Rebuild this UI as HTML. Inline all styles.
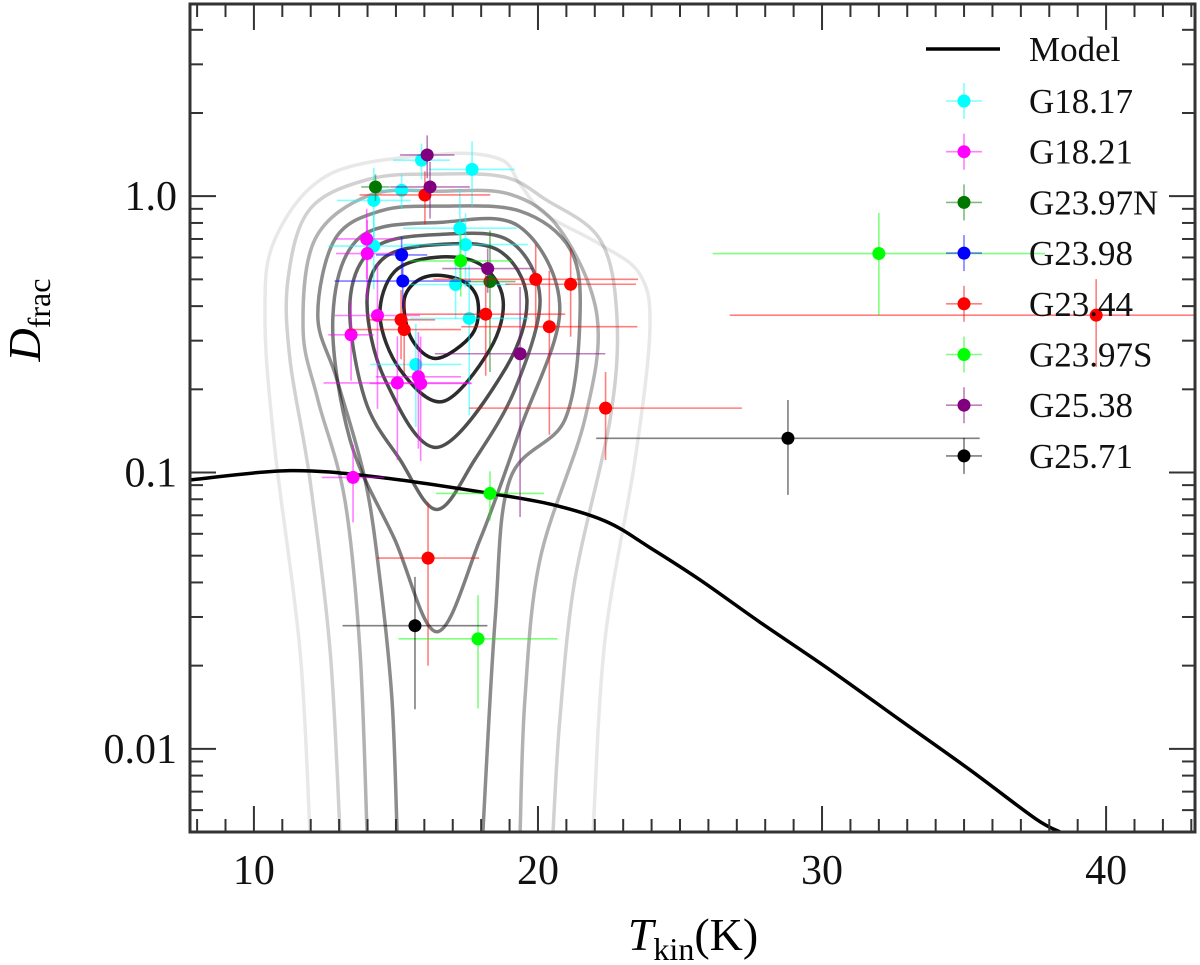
<!DOCTYPE html>
<html><head><meta charset="utf-8"><style>
html,body{margin:0;padding:0;background:#fff;}
svg{display:block;font-family:"Liberation Serif",serif;}
</style></head><body>
<svg id="chart" width="1200" height="965" viewBox="0 0 1200 965">
<defs><clipPath id="plotclip"><rect x="190" y="4" width="1005" height="828"/></clipPath></defs>
<g id="contours" clip-path="url(#plotclip)"></g>
<g id="model" clip-path="url(#plotclip)"></g>
<g id="points" clip-path="url(#plotclip)"></g>
<g id="axes"></g>
<g id="legend"></g>
<text x="40" y="320" font-size="46" text-anchor="middle" transform="rotate(-90 40 320)"><tspan font-style="italic">D</tspan><tspan font-size="32" dy="10">frac</tspan></text>
<text x="693" y="950" font-size="46" text-anchor="middle"><tspan font-style="italic">T</tspan><tspan font-size="32" dy="10">kin</tspan><tspan dy="-10">(K)</tspan></text>
</svg>
<script>
// ---------- data ----------
const seriesNames = ["G18.17","G18.21","G23.97N","G23.98","G23.44","G23.97S","G25.38","G25.71"];
const seriesColors = ["#00ffff","#ff00ff","#007800","#0000ff","#ff0000","#00ff00","#800080","#000000"];
const tG1817 = [15.9,17.68,15.2,14.22,17.25,17.45,14.22,17.1,17.58,15.7];
const dG1817 = [1.35,1.25,1.05,0.965,0.766,0.668,0.66,0.479,0.361,0.246];
const teG1817 = [1.0,1.5,0.8,1.3,2.0,2.2,1.6,1.9,2.1,1.6];
const deG1817 = [0.2,0.33,0.15,0.3,0.3,0.2,0.2,0.12,0.2,0.1];
const tG1821 = [13.97,13.99,14.35,13.42,15.05,15.79,15.87,13.49];
const dG1821 = [0.70,0.62,0.37,0.315,0.211,0.222,0.21,0.096];
const teG1821 = [1.1,1.1,1.5,0.8,2.6,1.5,1.8,1.1];
const deG1821 = [0.2,0.2,0.2,0.1,0.1,0.1,0.1,0.03];
const tG2397N = [14.28,18.31];
const dG2397N = [1.08,0.491];
const teG2397N = [0.5,0.9];
const deG2397N = [0.12,0.26];
const tG2398 = [15.2,15.24];
const dG2398 = [0.613,0.493];
const teG2398 = [0.9,2.4];
const deG2398 = [0.1,0.1];
const tG2344 = [16.02,19.92,21.15,15.18,18.16,15.29,20.4,22.38,16.13,39.65];
const dG2344 = [1.01,0.50,0.48,0.357,0.374,0.329,0.337,0.171,0.049,0.371];
const teG2344 = [2.3,3.6,2.3,1.2,2.8,2.0,3.1,4.8,1.8,12.9];
const deG2344 = [0.22,0.17,0.17,0.1,0.15,0.1,0.2,0.06,0.029,0.13];
const tG2397S = [17.28,18.31,17.89,32.0];
const dG2397S = [0.583,0.084,0.025,0.62];
const teG2397S = [1.8,1.9,2.8,5.85];
const deG2397S = [0.15,0.017,0.011,0.25];
const tG2538 = [16.1,16.2,18.23,19.37];
const dG2538 = [1.41,1.08,0.547,0.269];
const teG2538 = [0.96,1.4,1.6,3.0];
const deG2538 = [0.25,0.25,0.1,0.2];
const tG2571 = [15.67,28.8];
const dG2571 = [0.0279,0.133];
const teG2571 = [2.55,6.75];
const deG2571 = [0.014,0.05];

const modelT = [7.75,11.27,14.44,18.31,20.5,22.4,23.94,25.7,27.8,30.28,32.75,35.2,37.5,38.38];
const modelD = [0.094,0.1016,0.096,0.084,0.0765,0.0665,0.0535,0.0409,0.0288,0.0193,0.0127,0.0084,0.0056,0.005];

const xTicks = [10,20,30,40];
const xTickLabels = ["10","20","30","40"];
const yTicks = [1.0,0.1,0.01];
const yTickLabels = ["1.0","0.1","0.01"];

// contours: T values and log10(D) values
const c1T=[16.44,17.43,17.89,17.68,16.44,15.56,15.28,15.67];
const c1L=[-0.286,-0.312,-0.384,-0.5,-0.587,-0.518,-0.384,-0.312];
const c2T=[16.44,17.96,18.77,18.31,16.65,15.14,14.44,14.96];
const c2L=[-0.221,-0.246,-0.373,-0.554,-0.743,-0.627,-0.435,-0.272];
const c3T=[16.65,18.66,19.61,18.84,16.44,14.61,13.98,14.61];
const c3L=[-0.174,-0.199,-0.373,-0.627,-0.909,-0.663,-0.384,-0.221];
const c4T=[16.65,19.01,20.07,19.19,17.78,16.44,15.14,13.91,13.38,14.26];
const c4L=[-0.138,-0.163,-0.373,-0.699,-0.953,-1.134,-0.953,-0.736,-0.384,-0.185];
const c5T=[16.65,19.37,20.77,19.37,17.96,16.44,14.96,13.38,12.78,13.73];
const c5L=[-0.094,-0.112,-0.409,-0.844,-1.243,-1.576,-1.243,-0.88,-0.435,-0.149];
const c6T=[15.04,14.86,14.44,13.91,12.92,12.25,12.85,14.44,16.55,19.37,21.13,21.48,20.95,19.01,18.49,18.06];
const c6L=[-2.301,-1.822,-1.388,-1.025,-0.663,-0.435,-0.156,-0.054,-0.036,-0.054,-0.192,-0.435,-0.808,-1.025,-1.533,-2.301];
const c7T=[13.98,13.73,13.2,12.25,11.73,12.15,14.08,16.55,19.01,20.77,22.08,21.65,20.07,19.54,19.37];
const c7L=[-2.301,-1.641,-1.098,-0.736,-0.482,-0.156,0.004,0.018,0.007,-0.12,-0.435,-0.808,-1.315,-1.822,-2.301];
const c8T=[13.03,12.68,11.97,11.27,11.2,11.97,14.08,16.55,18.84,20.25,22.18,22.78,22.54,21.3,20.77,20.53];
const c8L=[-2.301,-1.641,-1.025,-0.591,-0.301,-0.047,0.062,0.08,0.069,-0.011,-0.156,-0.435,-0.808,-1.388,-1.895,-2.301];
const c9T=[11.97,11.62,10.74,10.39,10.74,12.68,16.55,18.66,19.37,20.25,22.18,23.59,23.94,23.42,22.36,21.94];
const c9L=[-2.301,-1.641,-0.917,-0.446,-0.156,0.08,0.152,0.134,0.043,-0.065,-0.174,-0.283,-0.482,-0.953,-1.605,-2.301];

// ---------- scales ----------
const X0=190, X1=1195, Y0=4, Y1=832;
const TMIN=7.75, TMAX=43.13;
const LMIN=Math.log10(0.005), LMAX=Math.log10(4.96);
function sx(t){return X0+(t-TMIN)/(TMAX-TMIN)*(X1-X0);}
function syL(l){return Y1-(l-LMIN)/(LMAX-LMIN)*(Y1-Y0);}
function sy(d){return syL(Math.log10(d));}

const NS="http://www.w3.org/2000/svg";
function mk(tag,parent,attrs){const e=document.createElementNS(NS,tag);for(const k in attrs)e.setAttribute(k,attrs[k]);parent.appendChild(e);return e;}

function smoothPath(pts,closed){
  const n=pts.length;let d="M"+pts[0][0].toFixed(1)+","+pts[0][1].toFixed(1);
  const get=i=>closed?pts[(i+n)%n]:pts[Math.max(0,Math.min(n-1,i))];
  const segs=closed?n:n-1;
  for(let i=0;i<segs;i++){
    const p0=get(i-1),p1=get(i),p2=get(i+1),p3=get(i+2);
    const c1=[p1[0]+(p2[0]-p0[0])/6,p1[1]+(p2[1]-p0[1])/6];
    const c2=[p2[0]-(p3[0]-p1[0])/6,p2[1]-(p3[1]-p1[1])/6];
    d+="C"+c1[0].toFixed(1)+","+c1[1].toFixed(1)+" "+c2[0].toFixed(1)+","+c2[1].toFixed(1)+" "+p2[0].toFixed(1)+","+p2[1].toFixed(1);
  }
  if(closed)d+="Z";return d;
}

// ---------- contours ----------
const cg=document.getElementById('contours');
const contourList=[[c9T,c9L,false,0.09],[c8T,c8L,false,0.18],[c7T,c7L,false,0.3],[c6T,c6L,false,0.45],[c5T,c5L,true,0.5],[c4T,c4L,true,0.6],[c3T,c3L,true,0.7],[c2T,c2L,true,0.82],[c1T,c1L,true,0.88]];
contourList.forEach((c,i)=>{
  const pts=c[0].map((t,j)=>[sx(t),syL(c[1][j])]);
  const p=mk('path',cg,{d:smoothPath(pts,c[2]),fill:'none',stroke:'rgba(0,0,0,'+c[3]+')','stroke-width':3.5});
  
  
});

// ---------- model ----------
const mg=document.getElementById('model');
const mpts=modelT.map((t,i)=>[sx(t),sy(modelD[i])]);
const mp=mk('path',mg,{d:smoothPath(mpts,false),fill:'none',stroke:'#000','stroke-width':3.5});



// ---------- points ----------
const allSeries=[[tG1817,dG1817,teG1817,deG1817],[tG1821,dG1821,teG1821,deG1821],[tG2397N,dG2397N,teG2397N,deG2397N],[tG2398,dG2398,teG2398,deG2398],[tG2344,dG2344,teG2344,deG2344],[tG2397S,dG2397S,teG2397S,deG2397S],[tG2538,dG2538,teG2538,deG2538],[tG2571,dG2571,teG2571,deG2571]];
const pg=document.getElementById('points');
allSeries.forEach((s,k)=>{
  const col=seriesColors[k];
  const g=mk('g',pg,{});
  
  
  s[0].forEach((t,i)=>{
    const d=s[1][i],te=s[2][i],de=s[3][i];
    const x=sx(t),y=sy(d);
    const hb=mk('line',g,{x1:sx(t-te),x2:sx(t+te),y1:y,y2:y,stroke:col,'stroke-opacity':0.5,'stroke-width':1.6});
    
    
    const lo=Math.max(d-de,0.003);
    const vb=mk('line',g,{x1:x,x2:x,y1:sy(d+de),y2:sy(lo),stroke:col,'stroke-opacity':0.5,'stroke-width':1.6});
    
    
  });
  s[0].forEach((t,i)=>{
    const c=mk('circle',g,{cx:sx(t),cy:sy(s[1][i]),r:6.5,fill:col});
    
    
  });
});

// ---------- axes ----------
const ag=document.getElementById('axes');
const frame=mk('rect',ag,{x:X0,y:Y0,width:X1-X0,height:Y1-Y0,fill:'none',stroke:'#333','stroke-width':3});


for(let t=8;t<=43;t++){
  const major=(t%10===0);const L=major?26:13;const x=sx(t);
  const a=mk('line',ag,{x1:x,x2:x,y1:Y1,y2:Y1-L,stroke:'#333','stroke-width':2});
  
  
  const b=mk('line',ag,{x1:x,x2:x,y1:Y0,y2:Y0+L,stroke:'#333','stroke-width':2});
  
  
}
for(let e=-3;e<=0;e++){
  for(let m=1;m<=9;m++){
    const v=m*Math.pow(10,e);if(v<0.005||v>4.9)continue;
    const y=sy(v);const L=(m===1)?26:13;
    const a=mk('line',ag,{x1:X0,x2:X0+L,y1:y,y2:y,stroke:'#333','stroke-width':2});
    
    
    const b=mk('line',ag,{x1:X1,x2:X1-L,y1:y,y2:y,stroke:'#333','stroke-width':2});
    
    
  }
}
xTicks.forEach((t,i)=>{
  const tx=mk('text',ag,{x:sx(t),y:884,'font-size':42,'text-anchor':'middle',fill:'#111'});
  tx.textContent=xTickLabels[i];
  
  
});
yTicks.forEach((v,i)=>{
  const tx=mk('text',ag,{x:177,y:sy(v)+14,'font-size':42,'text-anchor':'end',fill:'#111'});
  tx.textContent=yTickLabels[i];
  
  
});

// ---------- legend ----------
const lg=document.getElementById('legend');
const ml=mk('line',lg,{x1:926,x2:1000,y1:49,y2:49,stroke:'#000','stroke-width':3.5});


const mt=mk('text',lg,{x:1029,y:61,'font-size':35,fill:'#111'});
mt.textContent='Model';


seriesNames.forEach((nm,k)=>{
  const y=101+k*50.7;const col=seriesColors[k];
  const g=mk('g',lg,{});
  
  
  mk('line',g,{x1:946,x2:982,y1:y,y2:y,stroke:col,'stroke-opacity':0.5,'stroke-width':1.6});
  mk('line',g,{x1:964,x2:964,y1:y-18,y2:y+18,stroke:col,'stroke-opacity':0.5,'stroke-width':1.6});
  mk('circle',g,{cx:964,cy:y,r:6.5,fill:col});
  const t=mk('text',g,{x:1029,y:y+12,'font-size':35,fill:'#111'});
  t.textContent=nm;
});
</script>
</body></html>
